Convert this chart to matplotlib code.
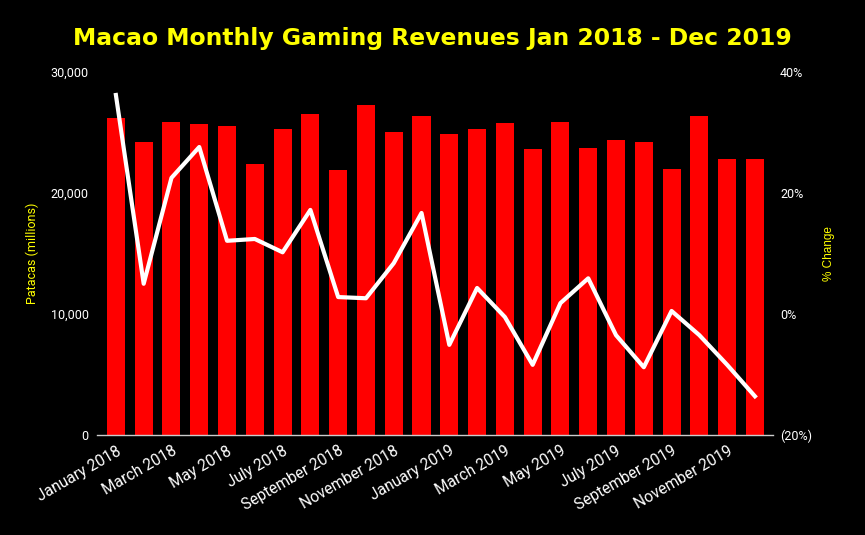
import matplotlib
matplotlib.use("Agg")
import matplotlib.pyplot as plt
from matplotlib.ticker import FuncFormatter, FixedLocator

months = ["January 2018", "February 2018", "March 2018", "April 2018", "May 2018", "June 2018",
          "July 2018", "August 2018", "September 2018", "October 2018", "November 2018", "December 2018",
          "January 2019", "February 2019", "March 2019", "April 2019", "May 2019", "June 2019",
          "July 2019", "August 2019", "September 2019", "October 2019", "November 2019", "December 2019"]
revenues = [26200, 24200, 25900, 25700, 25500, 22400, 25300, 26500, 21900, 27300, 25000, 26400,
            24900, 25300, 25800, 23600, 25900, 23700, 24400, 24200, 22000, 26400, 22800, 22800]
pct_change = [36.2, 5.0, 22.5, 27.6, 12.1, 12.4, 10.2, 17.2, 2.8, 2.6, 8.4, 16.7,
              -5.1, 4.3, -0.5, -8.4, 1.8, 5.9, -3.5, -8.8, 0.5, -3.5, -8.4, -13.6]
left_ticks = [0, 10000, 20000, 30000]
right_ticks = [-20, 0, 20, 40]

W, H = 865, 535
fig = plt.figure(figsize=(W / 100, H / 100), dpi=100, facecolor="black")
ax = fig.add_axes([97 / W, 1 - 435 / H, (773 - 97) / W, (435 - 72) / H])
ax.set_facecolor("black")
x = list(range(len(months)))
ax.bar(x, revenues, width=0.65, color="#ff0000", zorder=2)
ax.set_xlim(-0.68, len(months) - 1 + 0.65)
ax.set_ylim(0, 30000)
ax.yaxis.set_major_locator(FixedLocator(left_ticks))
ax.yaxis.set_major_formatter(FuncFormatter(lambda v, p: f"{int(v):,}"))
ax.set_xticks(x[::2])
ax.set_xticklabels(months[::2], rotation=30, ha="right", rotation_mode="anchor",
                   fontsize=11.2, color="white", family="Roboto")
ax.tick_params(axis="x", length=0, pad=6)
ax.tick_params(axis="y", length=0, colors="white", labelsize=9, pad=6)
for lab in ax.get_yticklabels():
    lab.set_family("Roboto")
for s in ["top", "right", "left"]:
    ax.spines[s].set_visible(False)
ax.spines["bottom"].set_color("#cccccc")
ax.spines["bottom"].set_linewidth(1)
ax.set_ylabel("Patacas (millions)", color="#ffff00", fontsize=9, family="Roboto", labelpad=8)

ax2 = ax.twinx()
ax2.plot(x, pct_change, color="white", linewidth=3, zorder=3)
ax2.set_ylim(-20, 40)
ax2.yaxis.set_major_locator(FixedLocator(right_ticks))
ax2.yaxis.set_major_formatter(FuncFormatter(lambda v, p: f"({abs(int(v))}%)" if v < 0 else f"{int(v)}%"))
ax2.tick_params(axis="y", length=0, colors="white", labelsize=9, pad=5)
for lab in ax2.get_yticklabels():
    lab.set_family("Roboto")
for s in ["top", "right", "left", "bottom"]:
    ax2.spines[s].set_visible(False)
ax2.set_ylabel("% Change", color="#ffff00", fontsize=8.5, family="Liberation Sans", labelpad=8)

fig.text(432 / W, 1 - 38 / H, "Macao Monthly Gaming Revenues Jan 2018 - Dec 2019",
         ha="center", va="center", color="#ffff00", fontsize=16.9, fontweight="bold",
         family="DejaVu Sans")

fig.savefig("out.png", dpi=100, facecolor="black")
